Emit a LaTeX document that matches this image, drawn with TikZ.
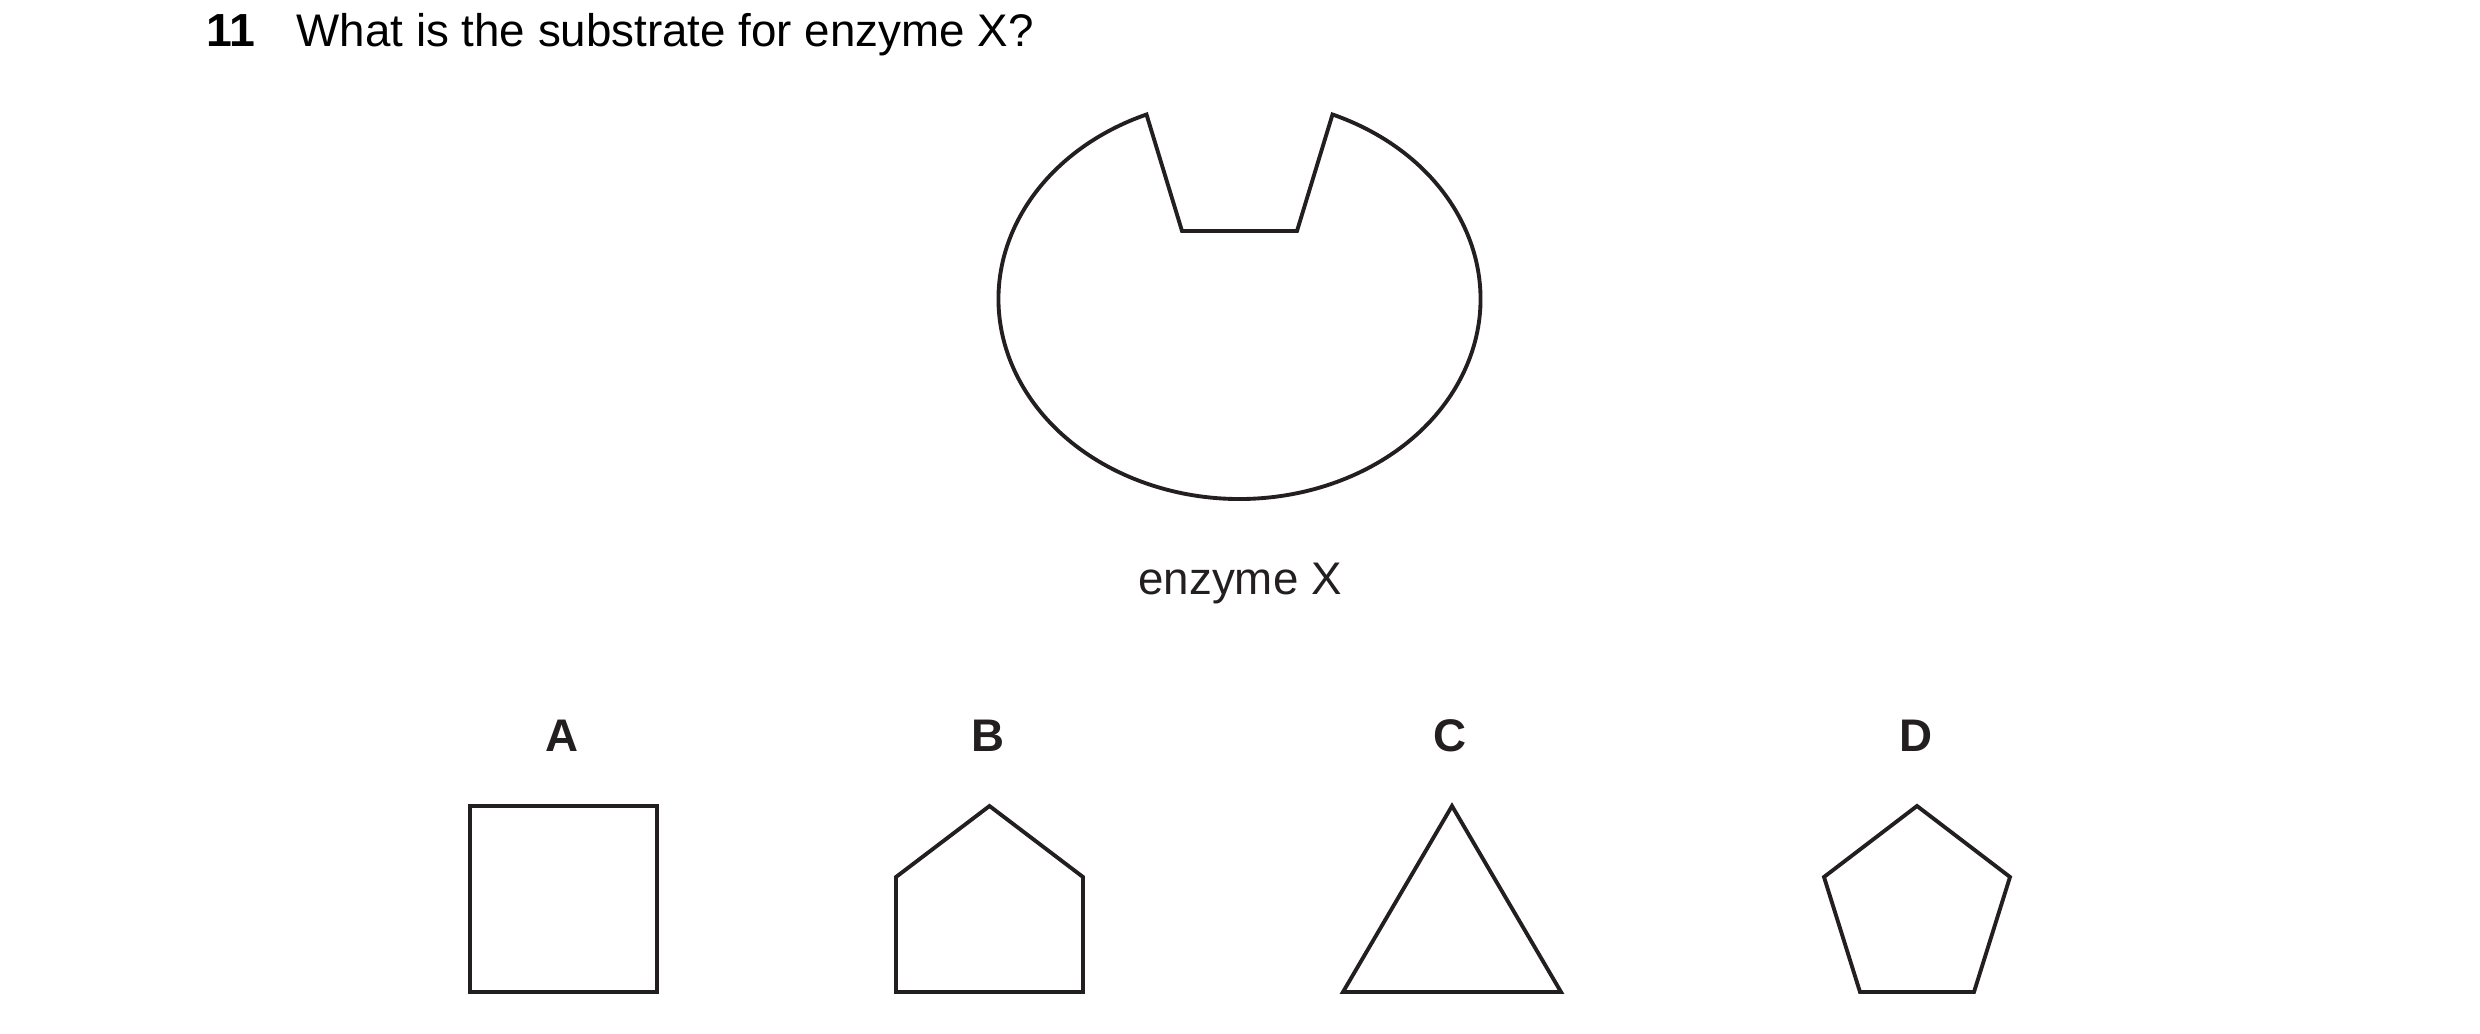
\documentclass[tikz,border=0pt]{standalone}
\usepackage{fontspec}
\setmainfont{Liberation Sans}
\usetikzlibrary{positioning}

\definecolor{ink}{HTML}{231F20}

\begin{document}
\begin{tikzpicture}[x=0.01cm,y=-0.01cm,
    outline/.style={
      draw=ink,
      line width=1.1pt,
      line join=miter
    },
    question/.style={
      inner sep=0pt,
      anchor=base west,
      font=\fontsize{13}{16}\selectfont
    },
    letter/.style={
      inner sep=0pt,
      anchor=base,
      text=ink,
      font=\fontsize{13}{16}\selectfont\bfseries
    }
    ]
    \useasboundingbox (0,0) rectangle (2480,1034);
    \node[question,font=\fontsize{13.2}{16}\selectfont\bfseries] (num) at (206,47) {11};
    \node[question] (q) at (296,47) {What is the substrate for enzyme X?};
    % enzyme with its active site
    \draw[outline] (1332.5,114.5)
      arc[start angle=-67.3, end angle=247.3, x radius=241, y radius=200]
      -- (1182,231) -- (1297,231) -- cycle;
    \node[letter,font=\fontsize{13}{16}\selectfont] (X) at (1240,595) {enzyme X};
    \foreach \l/\x in {A/562,B/988,C/1450,D/1916}
      \node[letter] (\l) at (\x,752) {\l};
    \draw[outline] (470,806) rectangle (657,992);
    \draw[outline] (896,992) -- (896,877) -- (989.5,806) -- (1083,877) -- (1083,992) -- cycle;
    \draw[outline] (1343,992) -- (1452,806) -- (1561,992) -- cycle;
    \draw[outline] (1917,806) -- (2010,877) -- (1974,992) -- (1860,992) -- (1824,877) -- cycle;
  \end{tikzpicture}
\end{document}
